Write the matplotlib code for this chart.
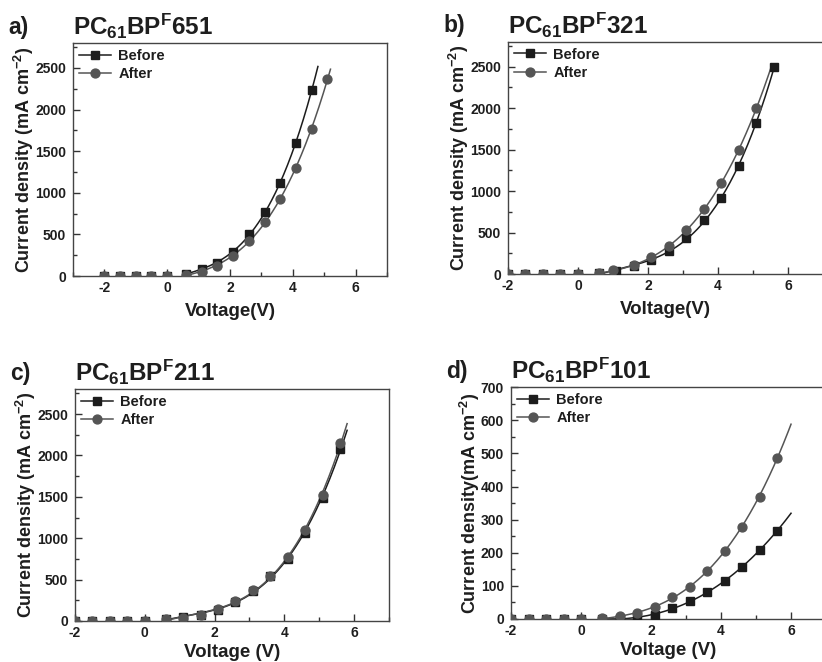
import numpy as np
import matplotlib
matplotlib.use("Agg")
import matplotlib.pyplot as plt
from matplotlib.ticker import MultipleLocator

plt.rcParams['font.family'] = ['Liberation Sans', 'DejaVu Sans']
plt.rcParams['font.weight'] = 'bold'
plt.rcParams['axes.unicode_minus'] = False
plt.rcParams['mathtext.fontset'] = 'custom'
plt.rcParams['mathtext.rm'] = 'Liberation Sans:bold'
plt.rcParams['mathtext.bf'] = 'Liberation Sans:bold'
plt.rcParams['mathtext.it'] = 'Liberation Sans:bold'

# ---------------- data ----------------
volt = [-2, -1.5, -1, -0.5, 0, 0.6, 1.1, 1.6, 2.1, 2.6, 3.1, 3.6, 4.1, 4.6, 5.1, 5.6]

# panel a  PC61BPF651
a_before_v = volt[:14]
a_before_j = [0, 0, 0, 0, 0, 30, 80, 161, 294, 503, 765, 1119, 1594, 2238]
a_after_v = volt[:15]
a_after_j = [0, 0, 0, 0, 0, 15, 52, 125, 245, 427, 644, 930, 1300, 1763, 2367]

# panel b  PC61BPF321
b_before_v = volt
b_before_j = [0, 0, 0, 0, 0, 10, 40, 92, 169, 281, 437, 650, 919, 1300, 1818, 2500]
b_after_v = [-2, -1.5, -1, -0.5, 0, 0.6, 1.0, 1.6, 2.1, 2.6, 3.1, 3.6, 4.1, 4.6, 5.1]
b_after_j = [0, 0, 0, 0, 0, 12, 44, 104, 200, 341, 534, 787, 1096, 1497, 2007]

# panel c  PC61BPF211
c_before_v = volt
c_before_j = [0, 0, 0, 0, 0, 28, 44, 72, 132, 233, 365, 542, 754, 1063, 1485, 2079]
c_after_v = volt
c_after_j = [0, 0, 0, 0, 0, 20, 40, 72, 140, 241, 373, 546, 778, 1096, 1521, 2151]

# panel d  PC61BPF101
d_before_v = volt
d_before_j = [0, 0, 0, 0, 0, 0, 1, 3, 13, 33, 53, 80, 115, 156, 207, 267]
d_after_v = volt
d_after_j = [0, 0, 0, 0, 0, 2, 8, 17, 36, 65, 98, 146, 204, 278, 370, 486]

# end of fitted curves (V)
fit_end = {'a': (4.8, 5.2), 'b': (5.6, 5.55), 'c': (5.8, 5.8), 'd': (6.0, 6.0)}

panels = [
    dict(key='a', letter='a)', name='651', bv=a_before_v, bj=a_before_j, av=a_after_v, aj=a_after_j,
         rect=[0.0888, 0.583, 0.382, 0.352], xlim=(-3, 7), ylim=(0, 2800), ymaj=500, ymin=250,
         xlabel='Voltage(V)', ylabel='Current density (mA cm$^{-2}$)', xpad=6),
    dict(key='b', letter='b)', name='321', bv=b_before_v, bj=b_before_j, av=b_after_v, aj=b_after_j,
         rect=[0.618, 0.586, 0.3832, 0.351], xlim=(-2, 7), ylim=(0, 2800), ymaj=500, ymin=250,
         xlabel='Voltage(V)', ylabel='Current density (mA cm$^{-2}$)', xpad=6),
    dict(key='c', letter='c)', name='211', bv=c_before_v, bj=c_before_j, av=c_after_v, aj=c_after_j,
         rect=[0.0912, 0.062, 0.382, 0.350], xlim=(-2, 7), ylim=(0, 2800), ymaj=500, ymin=250,
         xlabel='Voltage (V)', ylabel='Current density (mA cm$^{-2}$)', xpad=3),
    dict(key='d', letter='d)', name='101', bv=d_before_v, bj=d_before_j, av=d_after_v, aj=d_after_j,
         rect=[0.6217, 0.065, 0.3832, 0.350], xlim=(-2, 7), ylim=(0, 700), ymaj=100, ymin=50,
         xlabel='Voltage (V)', ylabel='Current density(mA cm$^{-2}$)', xpad=3),
]

c_before = '#1c1c1c'
c_after = '#555555'
txt = '#1e1e1e'

fig = plt.figure(figsize=(8.22, 6.62), dpi=100)


def fit_curve(v, j, xend):
    # smooth cubic fit through the measured points (forward bias)
    v = np.asarray(v, float)
    j = np.asarray(j, float)
    m = v >= 0.5
    p = np.polyfit(v[m], j[m], 3)
    xs = np.linspace(0.6, xend, 200)
    ys = np.clip(np.polyval(p, xs), 0, None)
    return xs, ys


for P in panels:
    ax = fig.add_axes(P['rect'])
    eb, ea = fit_end[P['key']]
    xs, ys = fit_curve(P['bv'], P['bj'], eb)
    ax.plot(xs, ys, color=c_before, lw=1.1, zorder=2)
    xs, ys = fit_curve(P['av'], P['aj'], ea)
    ax.plot(xs, ys, color=c_after, lw=1.1, zorder=2)
    ax.plot(P['bv'], P['bj'], ls='none', marker='s', ms=5.4, color=c_before, zorder=3)
    ax.plot(P['av'], P['aj'], ls='none', marker='o', ms=6.4, color=c_after, zorder=4)
    # legend proxies
    hb, = ax.plot([], [], color=c_before, marker='s', ms=5.4, lw=1.1)
    ha, = ax.plot([], [], color=c_after, marker='o', ms=6.4, lw=1.1)
    ax.legend([hb, ha], ['Before', 'After'], loc='upper left', frameon=False,
              prop={'size': 10.5, 'weight': 'bold'}, handlelength=2.2, handletextpad=0.5,
              labelspacing=0.3, borderaxespad=0.0, labelcolor=txt)
    ax.set_xlim(*P['xlim'])
    ax.set_ylim(*P['ylim'])
    ax.xaxis.set_major_locator(MultipleLocator(2))
    ax.xaxis.set_minor_locator(MultipleLocator(1))
    ax.yaxis.set_major_locator(MultipleLocator(P['ymaj']))
    ax.yaxis.set_minor_locator(MultipleLocator(P['ymin']))
    ax.tick_params(which='both', direction='in', top=False, right=False, colors='#333333',
                   labelcolor=txt, labelsize=10, width=1)
    ax.tick_params(axis='y', pad=5)
    ax.tick_params(which='major', length=5)
    ax.tick_params(which='minor', length=3)
    for s in ax.spines.values():
        s.set_color('#444444')
        s.set_linewidth(1.0)
    ax.set_xlabel(P['xlabel'], fontsize=13.5, fontweight='bold', color=txt, labelpad=P['xpad'])
    ax.set_ylabel(P['ylabel'], fontsize=13.0, fontweight='bold', color=txt, labelpad=-1)
    # panel letter and title
    bb = ax.get_position()
    fig.text(bb.x0 - 0.079, bb.y1 + 0.014, P['letter'], fontsize=16.5, fontweight='bold',
             color=txt, ha='left', va='baseline')
    fig.text(bb.x0, bb.y1 + 0.012, 'PC$_{\\mathrm{61}}$BP$^{\\mathrm{F}}$' + P['name'],
             fontsize=17.5, fontweight='bold', color=txt, ha='left', va='baseline')

fig.savefig('out.png', dpi=100)
